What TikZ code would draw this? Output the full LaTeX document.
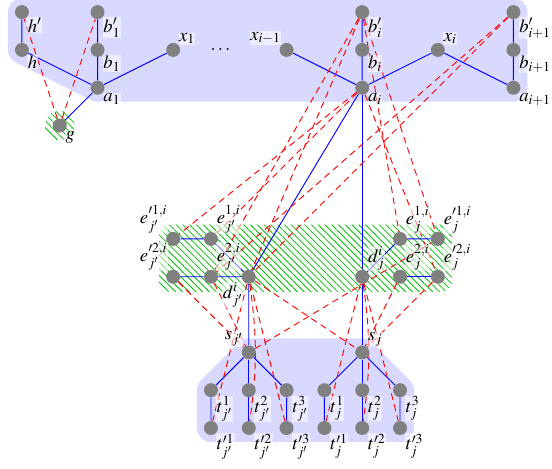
\documentclass[tikz,border=0pt]{standalone}
\usepackage{mathptmx}
\usetikzlibrary{backgrounds,calc,patterns.meta}
\begin{document}
\begin{tikzpicture}[x=1cm,y=1cm,
    vtx/.style={circle, fill=gray, inner sep=0pt, minimum size=0.37cm},
    every label/.style={fill=white, fill opacity=0.55, text opacity=1, inner sep=0.4pt, font=\fontsize{14}{16}\selectfont},
    tree/.style={blue, line width=0.7pt},
    conf/.style={red, line width=0.7pt, dash pattern=on 5pt off 3.5pt},
    hull/.style={fill=blue!15, draw=blue!15, line width=0.74cm, line join=round},
    hatch/.style={pattern={Lines[angle=-45,distance=3.6pt,line width=0.6pt]}, pattern color=green!75!black}]
    \useasboundingbox (-0.58,0.32) rectangle (14.02,-12.06);

    % Spine (top)
    \node[vtx, label={below right:$h'$}] (hp) at (0,0) {};
    \node[vtx, label={below right:$b'_1$}] (bp1) at (2,0) {};
    \node[vtx, label={below right:$h$}] (h) at (0,-1) {};
    \node[vtx, label={below right:$b_1$}] (b1) at (2,-1) {};
    \node[vtx, label={above right:$x_1$}] (x1) at (4,-1) {};
    \node[vtx, label={below right:$a_1$}] (a1) at (2,-2) {};
    \node[vtx, label={below right:$g$}] (g) at (1,-3) {};
    \node[font=\fontsize{14}{16}\selectfont] (dots) at (5.25,-1) {$\dots$};
    \node[vtx, label={above left:$x_{i-1}$}] (xim) at (7,-1) {};
    \node[vtx, label={below right:$b'_i$}] (bpi) at (9,0) {};
    \node[vtx, label={below right:$b_i$}] (bi) at (9,-1) {};
    \node[vtx, label={below right:$a_i$}] (ai) at (9,-2) {};
    \node[vtx, label={above right:$x_i$}] (xi) at (11,-1) {};
    \node[vtx, label={below right:$b'_{i+1}$}] (bpii) at (13,0) {};
    \node[vtx, label={below right:$b_{i+1}$}] (bii) at (13,-1) {};
    \node[vtx, label={below right:$a_{i+1}$}] (aii) at (13,-2) {};

    % Variable gadgets (middle)
    \node[vtx, label={above left:$e^{\prime 1,i}_{j'}$}] (ep1l) at (4,-6) {};
    \node[vtx, label={above right:$e^{1,i}_{j'}$}] (e1l) at (5,-6) {};
    \node[vtx, label={above left:$e^{\prime 2,i}_{j'}$}] (ep2l) at (4,-7) {};
    \node[vtx, label={above right:$e^{2,i}_{j'}$}] (e2l) at (5,-7) {};
    \node[vtx, label={below left:$d^i_{j'}$}] (dl) at (6,-7) {};
    \node[vtx, label={above right:$d^i_j$}] (dr) at (9,-7) {};
    \node[vtx, label={above right:$e^{1,i}_j$}] (e1r) at (10,-6) {};
    \node[vtx, label={above right:$e^{\prime 1,i}_j$}] (ep1r) at (11,-6) {};
    \node[vtx, label={above right:$e^{2,i}_j$}] (e2r) at (10,-7) {};
    \node[vtx, label={above right:$e^{\prime 2,i}_j$}] (ep2r) at (11,-7) {};

    % Clause gadgets (bottom)
    \node[vtx, label={above left:$s_{j'}$}] (sl) at (6,-9) {};
    \node[vtx, label={above right:$s_j$}] (sr) at (9,-9) {};
    \foreach \k/\x in {1/5,2/6,3/7} {
        \node[vtx, label={below right:$t^{\k}_{j'}$}] (tl\k) at (\x,-10) {};
        \node[vtx, label={below right:$t^{\prime\k}_{j'}$}] (tpl\k) at (\x,-11) {};
    }
    \foreach \k/\x in {1/8,2/9,3/10} {
        \node[vtx, label={below right:$t^{\k}_j$}] (tr\k) at (\x,-10) {};
        \node[vtx, label={below right:$t^{\prime\k}_j$}] (tpr\k) at (\x,-11) {};
    }

    \begin{scope}[on background layer]
        % Shaded groups
        \filldraw[hull] (hp.center) -- (bpii.center) -- (aii.center) -- (a1.center) -- (h.center) -- cycle;
        \filldraw[hull] (sl.center) -- (sr.center) -- (tr3.center) -- (tpr3.center) -- (tpl1.center) -- (tl1.center) -- cycle;
        \fill[hatch] (g) circle (0.39);
        \fill[hatch, rounded corners=0.3cm] ($(ep1l)+(-0.38,0.38)$) rectangle ($(ep2r)+(0.38,-0.4)$);

        % Tree edges (blue)
        \draw[tree] (hp) -- (h) -- (a1) -- (b1) -- (bp1);
        \draw[tree] (x1) -- (a1) -- (g);
        \draw[tree] (xim) -- (ai) -- (bi) -- (bpi);
        \draw[tree] (ai) -- (xi) -- (aii) -- (bii) -- (bpii);
        \draw[tree] (ai) -- (dl) -- (sl);
        \draw[tree] (ai) -- (dr) -- (sr);
        \draw[tree] (ep1l) -- (e1l) -- (dl) -- (e2l) -- (ep2l);
        \draw[tree] (ep1r) -- (e1r) -- (dr);
        \draw[tree] (e2r) -- (ep2r);
        \foreach \k in {1,2,3} {
            \draw[tree] (sl) -- (tl\k) -- (tpl\k);
            \draw[tree] (sr) -- (tr\k) -- (tpr\k);
        }

        % Conflict edges (red dashed)
        \draw[conf] (g) -- (hp);
        \draw[conf] (g) -- (bp1);
        \draw[conf] (ai) -- (ep1l);
        \draw[conf] (ai) -- (e1l);
        \draw[conf] (bpi) -- (dl);
        \draw[conf] (bpi) -- (e2l);
        \draw[conf] (bpii) -- (dl);
        \draw[conf] (bpii) -- (e2l);
        \draw[conf] (bpi) -- (e1r);
        \draw[conf] (bpi) -- (ep1r);
        \draw[conf] (ai) -- (ep2r);
        \draw[conf] (e2l) -- (sl);
        \draw[conf] (ep2l) -- (sl);
        \draw[conf] (e2r) -- (sr);
        \draw[conf] (ep2r) -- (sr);
        \draw[conf] (dl) -- (sr);
        \draw[conf] (sl) -- (ep1r);
        \draw[conf] (dl) -- (tpl1);
        \draw[conf] (dl) to[bend left=8] (tpl2);
        \draw[conf] (dl) -- (tpl3);
        \draw[conf] (dr) -- (tpr1);
        \draw[conf] (dr) to[bend left=8] (tpr2);
        \draw[conf] (dr) -- (tpr3);
    \end{scope}
\end{tikzpicture}
\end{document}
